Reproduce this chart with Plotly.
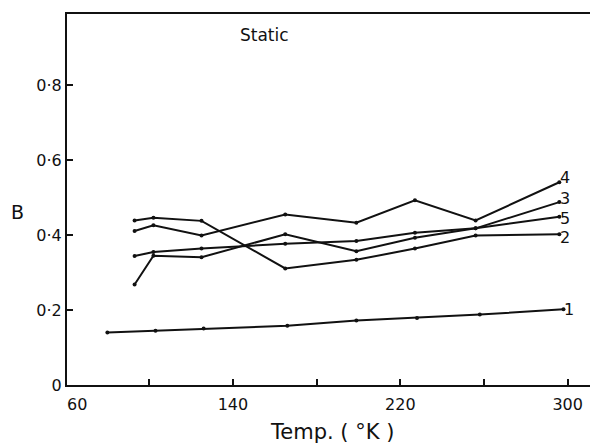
import plotly.graph_objects as go

# ---- data ----
temps = [93, 102, 125, 165, 199, 227, 256, 296]
temps_1 = [80, 103, 126, 166, 199, 228, 258, 298]
b_curve1 = [0.140, 0.145, 0.151, 0.158, 0.172, 0.179, 0.188, 0.202]
b_curve2 = [0.439, 0.446, 0.438, 0.311, 0.334, 0.364, 0.399, 0.402]
b_curve3 = [0.268, 0.345, 0.341, 0.402, 0.357, 0.393, 0.418, 0.488]
b_curve4 = [0.411, 0.426, 0.399, 0.455, 0.433, 0.493, 0.439, 0.541]
b_curve5 = [0.344, 0.355, 0.364, 0.377, 0.384, 0.406, 0.418, 0.449]
curve_labels = ["1", "2", "3", "4", "5"]
label_yshift = [0, -3, 4, 5, -2]

x_ticks = [100, 140, 180, 220, 260, 300]
x_ticktext = ["", "140", "", "220", "", "300"]
y_ticks = [0, 0.2, 0.4, 0.6, 0.8]
y_ticktext = ["0", "0·2", "0·4", "0·6", "0·8"]
X_RANGE = [60.7, 314.5]
Y_RANGE = [0, 0.99]

FONT = "DejaVu Sans"
INK = "#111111"

series = [
    (temps_1, b_curve1),
    (temps, b_curve2),
    (temps, b_curve3),
    (temps, b_curve4),
    (temps, b_curve5),
]

fig = go.Figure()
annotations = []
for (xs, ys), lab, ysh in zip(series, curve_labels, label_yshift):
    fig.add_trace(go.Scatter(
        x=xs, y=ys, mode="lines+markers",
        line=dict(color=INK, width=2),
        marker=dict(color=INK, size=4),
        showlegend=False, hoverinfo="skip",
    ))
    annotations.append(dict(
        x=xs[-1], y=ys[-1], xref="x", yref="y", text=lab,
        showarrow=False, xanchor="left", yanchor="middle",
        xshift=0, yshift=ysh, borderpad=0,
        font=dict(family=FONT, size=16, color=INK),
    ))

# "60" label at the start of the x axis
annotations.append(dict(
    x=X_RANGE[0], y=0, xref="x", yref="paper", text="60",
    showarrow=False, xanchor="left", yanchor="top", yshift=-8, xshift=-2,
    font=dict(family=FONT, size=16, color=INK),
))
annotations.append(dict(
    x=0.371, y=0.976, xref="paper", yref="paper", text="Static",
    showarrow=False, xanchor="center", yanchor="top",
    font=dict(family=FONT, size=17, color=INK),
))
annotations.append(dict(
    x=-0.094, y=0.466, xref="paper", yref="paper", text="B",
    showarrow=False, xanchor="center", yanchor="middle",
    font=dict(family=FONT, size=19, color=INK),
))
annotations.append(dict(
    x=0.499, y=-0.127, xref="paper", yref="paper", text="Temp. ( °K )",
    showarrow=False, xanchor="center", yanchor="middle",
    font=dict(family=FONT, size=21, color=INK),
))

# page has an 8px body margin, so the figure is 8px smaller each way
fig.update_layout(
    width=590, height=439,
    margin=dict(l=59, r=0, t=6, b=62),
    paper_bgcolor="white", plot_bgcolor="white",
    annotations=annotations,
    font=dict(family=FONT, color=INK),
)
fig.update_xaxes(
    range=X_RANGE, tickvals=x_ticks, ticktext=x_ticktext,
    ticks="inside", ticklen=6, tickwidth=1.5, tickcolor=INK,
    showline=True, linecolor=INK, linewidth=2, mirror=True,
    showgrid=False, zeroline=False, ticklabelstandoff=4,
    tickfont=dict(family=FONT, size=16, color=INK),
)
fig.update_yaxes(
    range=Y_RANGE, tickvals=y_ticks, ticktext=y_ticktext,
    ticks="inside", ticklen=6, tickwidth=1.5, tickcolor=INK,
    showline=True, linecolor=INK, linewidth=2, mirror=False,
    showgrid=False, zeroline=False,
    tickfont=dict(family=FONT, size=16, color=INK),
)

fig.write_html("out.html")
